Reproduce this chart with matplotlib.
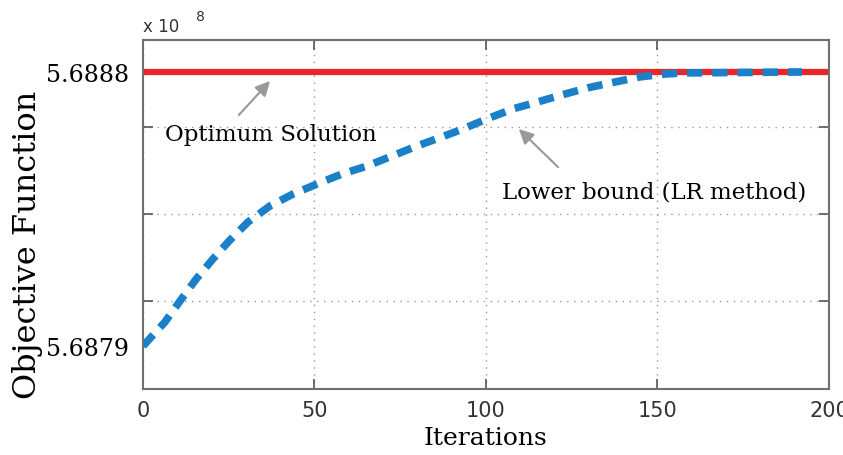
import matplotlib.pyplot as plt

# data (objective values in units of 1e8)
iters = [0, 6.4, 10.8, 15.5, 20.4, 25.1, 30.6, 37.0, 43.7, 50.7, 58.0, 65.3, 72.6, 79.9, 87.2,
         93.3, 100.3, 107.9, 115.2, 122.2, 129.7, 137.6, 144.9, 152.8, 159.5, 192.1]
lower_bound = [5.687900, 5.687979, 5.688048, 5.688120, 5.688186, 5.688245, 5.688307, 5.688360,
               5.688399, 5.688432, 5.688465, 5.688491, 5.688524, 5.688557, 5.688587, 5.688613,
               5.688646, 5.688679, 5.688702, 5.688725, 5.688748, 5.688767, 5.688784, 5.688794,
               5.688797, 5.688800]
optimum = 5.6888
opt_x = [0, 200]
ytick_vals = [5.6879, 5.6888]
ytick_labels = ["5.6879", "5.6888"]
grid_y = [5.688048, 5.688334, 5.688619]
xtick_vals = [0, 50, 100, 150, 200]

fig = plt.figure(figsize=(8.43, 4.56), dpi=100)
ax = fig.add_axes([0.1696, 0.1447, 0.8138, 0.7654])

ax.plot(opt_x, [optimum, optimum], color="#e8262a", linewidth=4.5, solid_capstyle="butt")
ax.plot(iters, lower_bound, color="#1a80c8", linewidth=5.5, linestyle=(0, (2.0, 1.3)),
        dash_capstyle="butt")

ax.set_xlim(0, 200)
ax.set_ylim(5.687759, 5.688905)

ax.set_xticks(xtick_vals)
ax.set_xticklabels([str(v) for v in xtick_vals], fontsize=15, color="#333333", family="DejaVu Sans")
ax.set_yticks(ytick_vals)
ax.set_yticklabels(ytick_labels, fontsize=17, family="DejaVu Serif")
ax.set_yticks(grid_y, minor=True)
ax.tick_params(axis="both", which="both", direction="in", top=True, right=True, color="#555555")
ax.tick_params(axis="x", which="major", length=7, width=1.2, pad=8)
ax.tick_params(axis="y", which="minor", length=7, width=1.2)
ax.tick_params(axis="y", which="major", length=0, pad=10)

ax.grid(True, axis="x", which="major", linestyle=(0, (1, 4)), color="#999999", linewidth=1)
ax.grid(True, axis="y", which="minor", linestyle=(0, (1, 4)), color="#999999", linewidth=1)

for s in ax.spines.values():
    s.set_color("#707070")
    s.set_linewidth(1.5)

ax.set_xlabel("Iterations", fontsize=18, family="DejaVu Serif", labelpad=4)
ax.set_ylabel("Objective Function", fontsize=23, family="DejaVu Serif", va="center")
ax.yaxis.set_label_coords(-0.168, 0.415)

fig.text(0.170, 0.93, "x 10", fontsize=12, color="#333333")
fig.text(0.233, 0.955, "8", fontsize=10, color="#333333")

arrow = dict(arrowstyle="-|>", color="#999999", lw=1.5, mutation_scale=22)
ax.annotate("", xy=(37.6, 5.688777), xytext=(27.4, 5.688652), arrowprops=arrow)
ax.annotate("", xy=(109, 5.688619), xytext=(121.6, 5.688481), arrowprops=arrow)
ax.text(6.4, 5.688596, "Optimum Solution", fontsize=16.5, family="DejaVu Serif", va="center")
ax.text(104.7, 5.688406, "Lower bound (LR method)", fontsize=16.5, family="DejaVu Serif", va="center")

fig.savefig("out.png", dpi=100)
